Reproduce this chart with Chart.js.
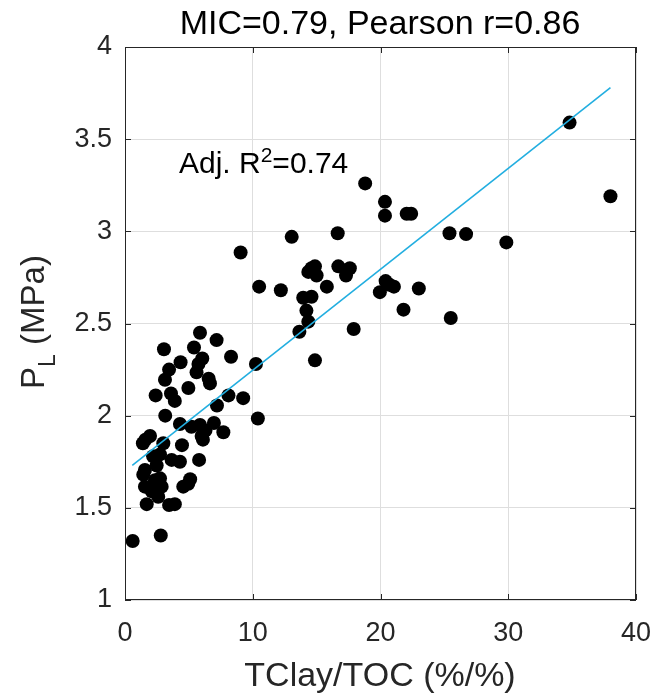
<!DOCTYPE html>
<html lang="en">
<head>
<meta charset="utf-8"/>
<title>MIC / Pearson scatter</title>
<script src="https://cdn.jsdelivr.net/npm/chart.js"></script>
<style>
  body { margin: 0; background: #fff; }
  #wrap { width: 656px; height: 695px; }
</style>
</head>
<body>
<div id="wrap"><canvas id="chart" width="656" height="695"></canvas></div>
<script>
  // values
  const ratioX = [
    0.6, 2.8, 1.7, 3.45, 3.9, 2.1, 2.6, 1.56, 2.87, 4.56, 4.95, 5.1,
    2.35, 2.74, 1.43, 1.56, 2.48, 2.2, 3.65, 4.3, 5.8, 2.74,
    1.4, 1.6, 3.0, 4.46, 6.1, 1.96, 6.0,
    4.3, 5.2, 5.87, 6.3, 6.96, 7.7, 3.15, 10.4,
    7.2, 3.9, 2.4, 3.6, 8.1, 9.25, 4.96,
    3.13, 6.55, 6.65, 3.45, 5.6, 5.75, 4.35, 6.05, 8.3, 3.05, 5.4, 7.17, 5.87, 10.25,
    9.05, 10.5, 12.2, 13.05, 13.65, 14.2, 14.35, 13.95, 14.6, 14.87,
    14.35, 14.6, 14.87, 15.0, 15.8, 16.65, 16.7, 17.6, 17.3, 17.9,
    18.8, 20.35, 20.35, 22.05, 22.4, 19.95, 20.4, 20.7, 21.05, 21.8,
    23.0, 25.4, 25.5, 26.7, 29.85, 34.8, 38.0
  ];
  const plValues = [
    1.32, 1.35, 1.52, 1.515, 1.52, 1.59, 1.56, 1.615, 1.615, 1.615, 1.63, 1.655,
    1.65, 1.66, 1.68, 1.705, 1.73, 1.78, 1.76, 1.75, 1.76, 1.79,
    1.85, 1.87, 1.85, 1.84, 1.87, 1.89, 1.89,
    1.955, 1.94, 1.95, 1.92, 1.96, 1.91, 2.0, 1.985,
    2.055, 2.08, 2.11, 2.12, 2.11, 2.095, 2.15,
    2.195, 2.2, 2.175, 2.25, 2.235, 2.28, 2.29, 2.31, 2.32, 2.36, 2.37, 2.41, 2.45, 2.28,
    2.885, 2.70, 2.68, 2.97, 2.455, 2.57, 2.51, 2.64, 2.645, 2.30,
    2.78, 2.80, 2.81, 2.76, 2.70, 2.99, 2.81, 2.80, 2.76, 2.47,
    3.26, 3.16, 3.085, 3.095, 3.095, 2.67, 2.73, 2.71, 2.70, 2.575,
    2.69, 2.99, 2.53, 2.985, 2.94, 3.59, 3.19
  ];
  // ends of the fitted line
  const fitX = [0.57, 38.0];
  const fitY = [1.73, 3.78];
  const xTicks = [0, 10, 20, 30, 40];
  const yTicks = [1, 1.5, 2, 2.5, 3, 3.5, 4];

  const ink = '#262626';
  const fam = '"Liberation Sans", Arial, sans-serif';

  const textPlugin = {
    id: 'texts',
    afterDraw(chart) {
      const ctx = chart.ctx;
      const a = chart.chartArea;
      const xs = chart.scales.x, ys = chart.scales.y;
      ctx.save();
      // box
      ctx.strokeStyle = ink;
      ctx.lineWidth = 1;
      ctx.strokeRect(a.left + 0.5, a.top + 0.5, a.right - a.left - 1, a.bottom - a.top - 1);
      // inward ticks
      ctx.beginPath();
      xTicks.forEach(v => {
        const px = Math.round(xs.getPixelForValue(v)) + 0.5;
        ctx.moveTo(px, a.bottom); ctx.lineTo(px, a.bottom - 6);
        ctx.moveTo(px, a.top); ctx.lineTo(px, a.top + 6);
      });
      yTicks.forEach(v => {
        const py = Math.round(ys.getPixelForValue(v)) + 0.5;
        ctx.moveTo(a.left, py); ctx.lineTo(a.left + 6, py);
        ctx.moveTo(a.right, py); ctx.lineTo(a.right - 6, py);
      });
      ctx.stroke();

      ctx.fillStyle = '#000';
      ctx.textBaseline = 'alphabetic';
      // title
      ctx.font = '34px ' + fam;
      ctx.textAlign = 'center';
      ctx.fillText('MIC=0.79, Pearson r=0.86', 380, 34);

      // x title
      ctx.fillStyle = ink;
      ctx.font = '34px ' + fam;
      ctx.fillText('TClay/TOC (%/%)', 380, 686);

      // y title with subscript
      ctx.save();
      ctx.translate(44, 322);
      ctx.rotate(-Math.PI / 2);
      ctx.textAlign = 'left';
      const big = '33px ' + fam;
      const small = '23px ' + fam;
      ctx.font = big;
      const wP = ctx.measureText('P').width;
      ctx.font = small;
      const wL = ctx.measureText('L').width;
      ctx.font = big;
      const wRest = ctx.measureText(' (MPa)').width;
      let x0 = -(wP + wL + wRest) / 2;
      ctx.fillText('P', x0, 0);
      ctx.font = small;
      ctx.fillText('L', x0 + wP, 11);
      ctx.font = big;
      ctx.fillText(' (MPa)', x0 + wP + wL, 0);
      ctx.restore();

      // R^2 annotation
      ctx.fillStyle = '#000';
      ctx.textAlign = 'left';
      ctx.font = '30px ' + fam;
      let tx = 179;
      ctx.fillText('Adj. R', tx, 173);
      tx += ctx.measureText('Adj. R').width;
      ctx.font = '21px ' + fam;
      ctx.fillText('2', tx, 162);
      tx += ctx.measureText('2').width;
      ctx.font = '30px ' + fam;
      ctx.fillText('=0.74', tx, 173);
      ctx.restore();
    }
  };

  const points = ratioX.map((x, i) => ({ x: x, y: plValues[i] }));
  const fitLine = fitX.map((x, i) => ({ x: x, y: fitY[i] }));

  new Chart(document.getElementById('chart').getContext('2d'), {
    type: 'scatter',
    data: {
      datasets: [
        {
          type: 'line',
          data: fitLine,
          borderColor: '#22aee0',
          borderWidth: 1.6,
          pointRadius: 0,
          fill: false,
          order: 0
        },
        {
          data: points,
          backgroundColor: '#000',
          borderColor: '#000',
          pointRadius: 7,
          borderWidth: 0,
          order: 1
        }
      ]
    },
    options: {
      responsive: false,
      animation: false,
      layout: { padding: { top: 47, right: 20, left: 0, bottom: 0 } },
      plugins: { legend: { display: false }, tooltip: { enabled: false }, title: { display: false } },
      scales: {
        x: {
          type: 'linear', min: 0, max: 40,
          afterFit: s => { s.height = 95; s.paddingRight = 0; s.paddingLeft = 0; },
          afterBuildTicks: s => { s.ticks = xTicks.map(v => ({ value: v })); },
          ticks: { color: ink, font: { size: 27, family: fam }, padding: 17, maxRotation: 0 },
          grid: { color: '#dedede', drawTicks: false },
          border: { display: false }
        },
        y: {
          type: 'linear', min: 1, max: 4,
          afterFit: s => { s.width = 125; s.paddingTop = 0; s.paddingBottom = 0; },
          afterBuildTicks: s => { s.ticks = yTicks.map(v => ({ value: v })); },
          ticks: { color: ink, font: { size: 27, family: fam }, padding: 13, callback: v => String(v) },
          grid: { color: '#dedede', drawTicks: false },
          border: { display: false }
        }
      }
    },
    plugins: [textPlugin]
  });
</script>
</body>
</html>
